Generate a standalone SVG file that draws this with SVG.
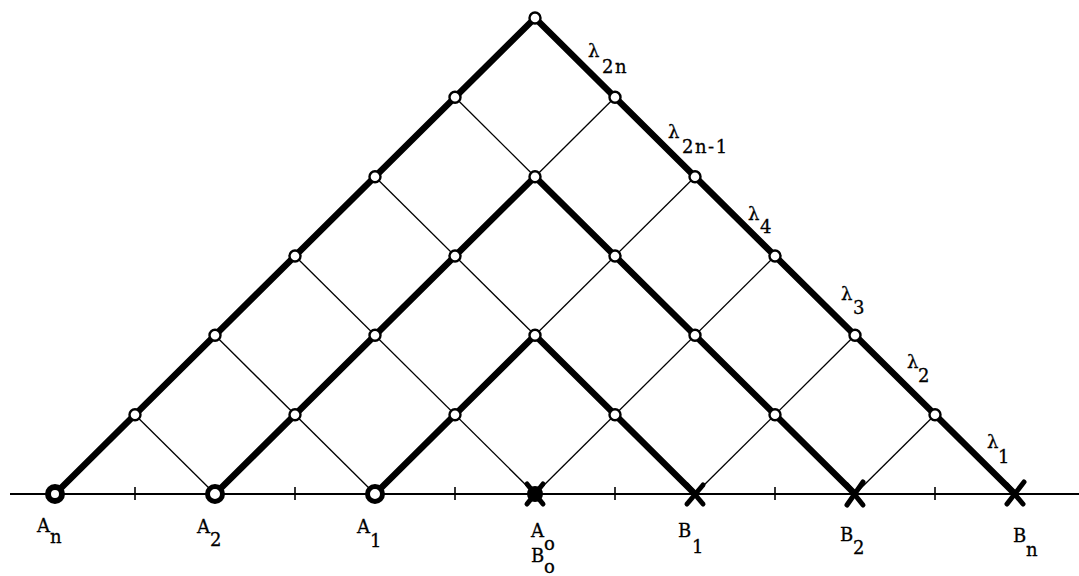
<svg xmlns="http://www.w3.org/2000/svg" width="1079" height="576" viewBox="0 0 1079 576">
<style>
.thick{fill:none;stroke:#000;stroke-width:6.5;stroke-linejoin:round;stroke-linecap:round}
.thin{fill:none;stroke:#000;stroke-width:1.3}
.base{fill:none;stroke:#000;stroke-width:2}
.tick{stroke:#000;stroke-width:1.6}
.nd{fill:#fff;stroke:#000;stroke-width:2.4}
.ring{fill:#fff;stroke:#000;stroke-width:5}
.xm{stroke:#000;stroke-width:5;stroke-linecap:round}
.t{font-family:"DejaVu Serif","Liberation Serif",serif;font-size:18px;fill:#000;stroke:#000;stroke-width:0.3;letter-spacing:1.5px}
</style>
<rect width="1079" height="576" fill="#fff"/>
<g id="connectors">
<line class="base" x1="10" y1="494" x2="1079" y2="494"/>
<line class="tick" x1="135" y1="487" x2="135" y2="500"/>
<line class="tick" x1="295" y1="487" x2="295" y2="500"/>
<line class="tick" x1="455" y1="487" x2="455" y2="500"/>
<line class="tick" x1="615" y1="487" x2="615" y2="500"/>
<line class="tick" x1="775" y1="487" x2="775" y2="500"/>
<line class="tick" x1="935" y1="487" x2="935" y2="500"/>
<line class="thin" x1="535" y1="176.7" x2="615" y2="97.3"/>
<line class="thin" x1="535" y1="335.3" x2="695" y2="176.7"/>
<line class="thin" x1="535" y1="494" x2="775" y2="256"/>
<line class="thin" x1="695" y1="494" x2="855" y2="335.3"/>
<line class="thin" x1="855" y1="494" x2="935" y2="414.7"/>
<line class="thin" x1="535" y1="176.7" x2="455" y2="97.3"/>
<line class="thin" x1="535" y1="335.3" x2="375" y2="176.7"/>
<line class="thin" x1="535" y1="494" x2="295" y2="256"/>
<line class="thin" x1="375" y1="494" x2="215" y2="335.3"/>
<line class="thin" x1="215" y1="494" x2="135" y2="414.7"/>
<path class="thick" d="M55,494 L535,18 L1015,494"/>
<path class="thick" d="M215,494 L535,176.7 L855,494"/>
<path class="thick" d="M375,494 L535,335.3 L695,494"/>
</g>
<g id="n-6-1"><circle class="nd" cx="535" cy="18" r="5.5"/></g>
<g id="n-5-1"><circle class="nd" cx="455" cy="97.3" r="5.5"/></g>
<g id="n-5-2"><circle class="nd" cx="615" cy="97.3" r="5.5"/></g>
<g id="n-4-1"><circle class="nd" cx="375" cy="176.7" r="5.5"/></g>
<g id="n-4-2"><circle class="nd" cx="535" cy="176.7" r="5.5"/></g>
<g id="n-4-3"><circle class="nd" cx="695" cy="176.7" r="5.5"/></g>
<g id="n-3-1"><circle class="nd" cx="295" cy="256" r="5.5"/></g>
<g id="n-3-2"><circle class="nd" cx="455" cy="256" r="5.5"/></g>
<g id="n-3-3"><circle class="nd" cx="615" cy="256" r="5.5"/></g>
<g id="n-3-4"><circle class="nd" cx="775" cy="256" r="5.5"/></g>
<g id="n-2-1"><circle class="nd" cx="215" cy="335.3" r="5.5"/></g>
<g id="n-2-2"><circle class="nd" cx="375" cy="335.3" r="5.5"/></g>
<g id="n-2-3"><circle class="nd" cx="535" cy="335.3" r="5.5"/></g>
<g id="n-2-4"><circle class="nd" cx="695" cy="335.3" r="5.5"/></g>
<g id="n-2-5"><circle class="nd" cx="855" cy="335.3" r="5.5"/></g>
<g id="n-1-1"><circle class="nd" cx="135" cy="414.7" r="5.5"/></g>
<g id="n-1-2"><circle class="nd" cx="295" cy="414.7" r="5.5"/></g>
<g id="n-1-3"><circle class="nd" cx="455" cy="414.7" r="5.5"/></g>
<g id="n-1-4"><circle class="nd" cx="615" cy="414.7" r="5.5"/></g>
<g id="n-1-5"><circle class="nd" cx="775" cy="414.7" r="5.5"/></g>
<g id="n-1-6"><circle class="nd" cx="935" cy="414.7" r="5.5"/></g>
<g id="An"><circle class="ring" cx="55" cy="494" r="7" style="stroke-width:6"/><text class="t" x="37" y="532">A</text><text class="t" x="50" y="543">n</text></g>
<g id="A2"><circle class="ring" cx="215" cy="494" r="7.5"/><text class="t" x="197" y="533">A</text><text class="t" x="210" y="546">2</text></g>
<g id="A1"><circle class="ring" cx="375" cy="494" r="7.5"/><text class="t" x="357" y="533">A</text><text class="t" x="370" y="547">1</text></g>
<g id="A0B0"><line class="xm" x1="527" y1="484" x2="543" y2="504"/><line class="xm" x1="543" y1="484" x2="527" y2="504"/><circle cx="535" cy="494" r="8" fill="#000"/><text class="t" x="531" y="537">A</text><text class="t" x="544" y="550">o</text><text class="t" x="531" y="562">B</text><text class="t" x="544" y="573">o</text></g>
<g id="B1"><line class="xm" x1="687" y1="485" x2="703" y2="504"/><line class="xm" x1="703" y1="485" x2="687" y2="504"/><text class="t" x="678" y="537">B</text><text class="t" x="692" y="553">1</text></g>
<g id="B2"><line class="xm" x1="847" y1="485" x2="863" y2="505"/><line class="xm" x1="863" y1="482" x2="847" y2="505"/><text class="t" x="840" y="541">B</text><text class="t" x="853" y="554">2</text></g>
<g id="Bn"><line class="xm" x1="1007" y1="485" x2="1023" y2="504"/><line class="xm" x1="1024" y1="482" x2="1007" y2="504"/><text class="t" x="1013" y="542">B</text><text class="t" x="1026" y="556">n</text></g>
<g id="labels">
<text class="t" x="588" y="57">λ</text><text class="t" x="602" y="73">2n</text>
<text class="t" x="668" y="138">λ</text><text class="t" x="682" y="153">2n-1</text>
<text class="t" x="748" y="220">λ</text><text class="t" x="760" y="233">4</text>
<text class="t" x="841" y="300">λ</text><text class="t" x="853" y="314">3</text>
<text class="t" x="907" y="368">λ</text><text class="t" x="918" y="382">2</text>
<text class="t" x="987" y="448">λ</text><text class="t" x="998" y="463">1</text>
</g>
</svg>
